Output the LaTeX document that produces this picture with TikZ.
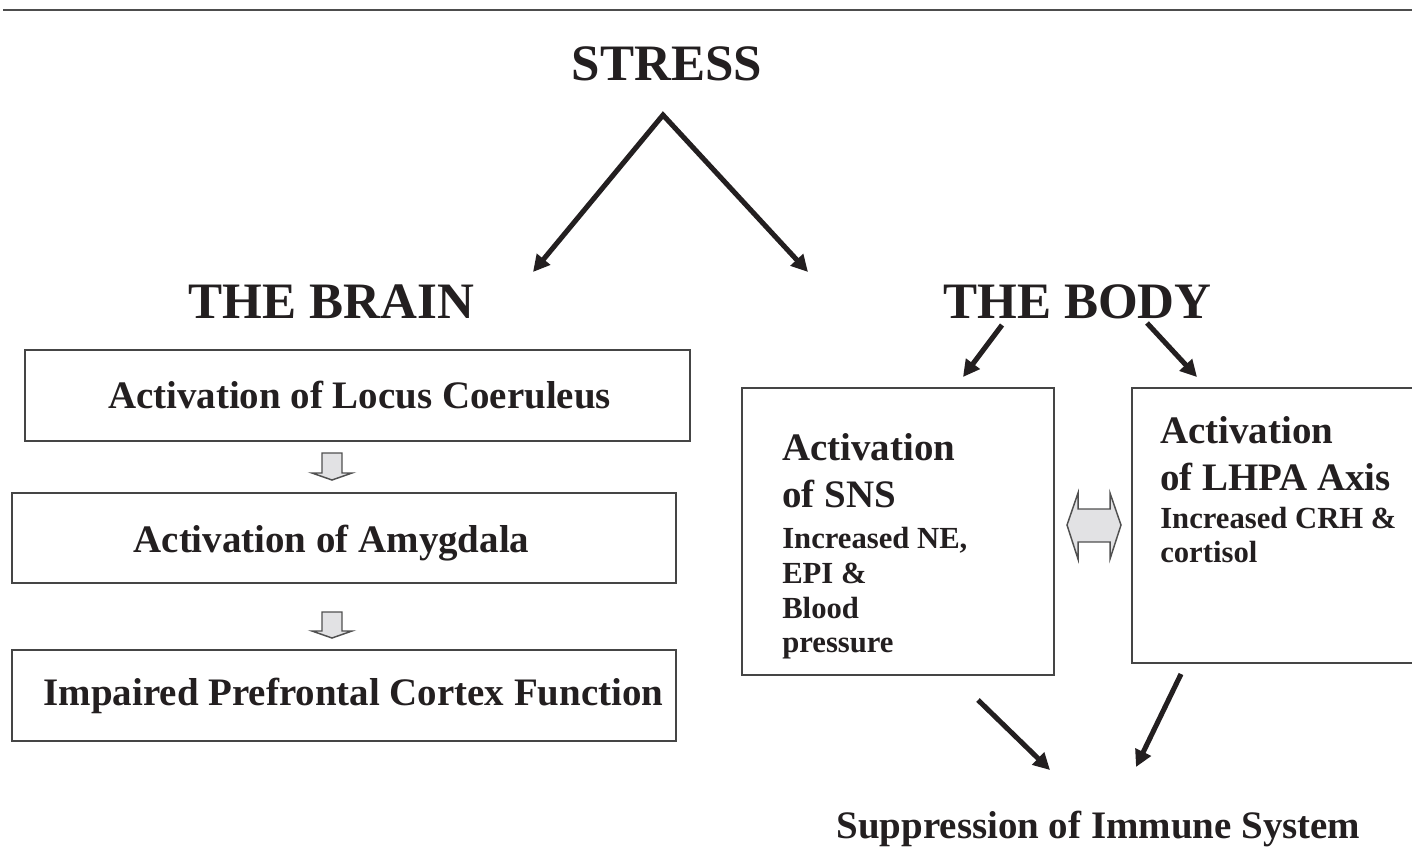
\documentclass[tikz,border=0pt]{standalone}
\usepackage{fontspec}
\setmainfont{Liberation Serif}
\usetikzlibrary{arrows.meta,fit}

\definecolor{ink}{HTML}{231F20}
\definecolor{rule}{HTML}{4D4D4D}
\definecolor{frame}{HTML}{454545}
\definecolor{blockfill}{HTML}{E2E2E4}
\definecolor{blockline}{HTML}{505050}

\begin{document}
\begin{tikzpicture}[x=0.75pt,y=-0.75pt,
  every node/.style={inner sep=0pt, text=ink},
  head/.style={font=\fontsize{38.3}{40}\selectfont\bfseries, anchor=base},
  txt/.style={font=\fontsize{29.2}{31}\selectfont\bfseries, anchor=base},
  txtl/.style={txt, anchor=base west},
  sub/.style={font=\fontsize{23}{25}\selectfont\bfseries, anchor=base west},
  box/.style={draw=frame, line width=1.4pt, inner sep=0pt},
  tip/.style={Triangle[length=12.5pt,width=12.5pt]},
  bigarrow/.style={draw=ink, line width=3.8pt, line join=miter, -{Triangle[length=12.5pt,width=12.5pt]}},
  block/.style={fill=blockfill, draw=blockline, line width=1.1pt, line join=miter}]

\clip (0,0) rectangle (1412,865);
\useasboundingbox (0,0) rectangle (1412,865);

% rule across the top
\draw[rule, line width=2.2pt] (3,10) -- (1412,10);

% headings
\node[head] (stress) at (667,80) {STRESS};
\node[head] (brain) at (331.5,318) {THE BRAIN};
\node[head] (body) at (1077.5,318) {THE BODY};

% stress splits into brain and body
\coordinate (apex) at (663,115);
\coordinate (toBrain) at (533,272);
\coordinate (toBody) at (808,272);
\draw[bigarrow, {Triangle[length=12.5pt,width=12.5pt]}-{Triangle[length=12.5pt,width=12.5pt]}]
  (toBrain) -- (apex) -- (toBody);

% brain cascade
\node[box, fit={(25,350) (690,441)}] (locus) {};
\node[txt] (locusT) at (359.5,408) {Activation of Locus Coeruleus};
\node[box, fit={(12,493) (676,583)}] (amyg) {};
\node[txt] (amygT) at (331.5,552) {Activation of Amygdala};
\node[box, fit={(12,650) (676,741)}] (pfc) {};
\node[txt] (pfcT) at (353.5,705) {Impaired Prefrontal Cortex Function};

\draw[block] (322,453) -- (342,453) -- (342,473) -- (352,473) -- (332,480)
  -- (312,473) -- (322,473) -- cycle;
\draw[block] (322,612) -- (342,612) -- (342,631) -- (352,631) -- (332,638)
  -- (312,631) -- (322,631) -- cycle;

% body: SNS and LHPA axis
\node[box, fit={(742,388) (1054,675)}] (sns) {};
\node[txtl] (sns1) at (782,460) {Activation};
\node[txtl] (sns2) at (782,507) {of SNS};
\node[sub] (sns3) at (782,548) {Increased NE,};
\node[sub] (sns4) at (782,583) {EPI \&};
\node[sub] (sns5) at (782,618) {Blood};
\node[sub] (sns6) at (782,652) {pressure};

\node[box, fit={(1132,388) (1424,663)}] (lhpa) {};
\node[txtl] (lhpa1) at (1160,443) {Activation};
\node[txtl] (lhpa2) at (1160,490) {of LHPA Axis};
\node[sub] (lhpa3) at (1160,528) {Increased CRH \&};
\node[sub] (lhpa4) at (1160,562) {cortisol};

% two-way link between SNS and LHPA
\draw[block] (1067,525) -- (1078,493) -- (1078,509) -- (1110,509) -- (1110,493)
  -- (1121,525) -- (1110,559) -- (1110,542) -- (1078,542) -- (1078,559) -- cycle;

\coordinate (bodyL) at (1002,325);
\coordinate (snsIn) at (963,377);
\coordinate (bodyR) at (1147,323);
\coordinate (lhpaIn) at (1197,377);
\draw[bigarrow] (bodyL) -- (snsIn);
\draw[bigarrow] (bodyR) -- (lhpaIn);

% both routes suppress immunity
\node[txt] (immune) at (1098.5,838) {Suppression of Immune System};
\coordinate (snsOut) at (978,700);
\coordinate (immL) at (1050,770);
\coordinate (lhpaOut) at (1181,674);
\coordinate (immR) at (1136,767);
\draw[bigarrow] (snsOut) -- (immL);
\draw[bigarrow] (lhpaOut) -- (immR);

\end{tikzpicture}
\end{document}
